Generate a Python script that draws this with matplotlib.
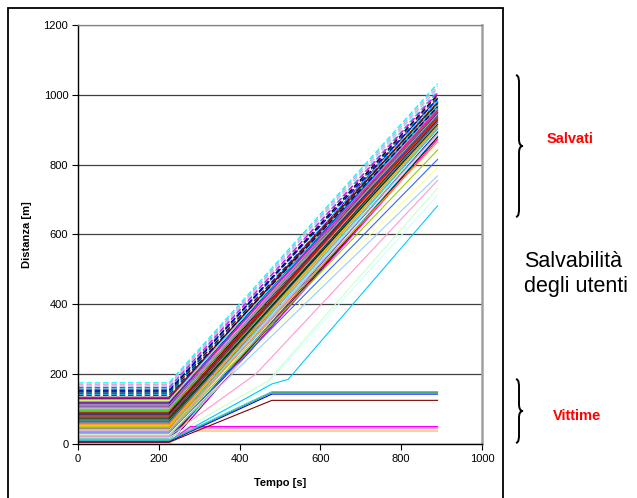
import numpy as np
import matplotlib.pyplot as plt
from matplotlib.path import Path
from matplotlib.patches import PathPatch, Rectangle

plt.rcParams['font.family'] = ['Liberation Sans', 'DejaVu Sans']

W, H = 637, 498

# tempi principali [s]
t_inizio = 225
t_fine = 890

# utenti salvati, fascio principale: distanza iniziale e finale [m]
salvati_d0 = [0, 3, 5, 8, 10, 13, 16, 19, 21, 24, 27, 30, 33, 35, 38, 41, 44, 47, 50, 52,
              55, 58, 61, 64, 66, 69, 72, 75, 78, 81, 84, 86, 89, 92, 95, 98, 101, 104,
              106, 109, 112, 115, 118, 121, 124, 127, 130, 134]
salvati_d1 = [880, 872, 890, 884, 895, 878, 900, 893, 905, 886, 912, 898, 907, 920, 889, 915,
              925, 903, 930, 918, 910, 935, 922, 940, 928, 945, 915, 950, 937, 955, 942, 948,
              960, 932, 965, 952, 970, 958, 944, 975, 962, 968, 980, 955, 985, 972, 990, 978]

# utenti salvati più lontani (linee tratteggiate)
tratteggio_d0 = [140, 143, 146, 149, 152, 155, 158, 162, 166, 170, 175]
tratteggio_d1 = [965, 982, 975, 995, 1000, 988, 1010, 1005, 1018, 1025, 1032]

# utenti salvati lenti: punti (tempo, distanza)
lenti_t = [[0, 225, 890], [0, 225, 890], [0, 225, 890], [0, 225, 890], [0, 225, 890],
           [0, 225, 440, 890], [0, 225, 470, 890], [0, 225, 450, 890], [0, 225, 480, 520, 890]]
lenti_d = [[46, 46, 865], [36, 36, 842], [31, 31, 815], [28, 28, 792], [25, 25, 768],
           [22, 22, 200, 755], [18, 18, 180, 733], [14, 14, 150, 712], [9, 9, 172, 185, 682]]
lenti_col = ['#FF9900', '#99CC00', '#3366FF', '#FFFF99', '#99CCFF',
             '#FF99CC', '#CCFFCC', '#CCFFFF', '#00CCFF']

# vittime: distanza iniziale, tempo e distanza di arresto
vittime_d0 = [1, 2, 3, 4, 5, 6, 5, 7, 9, 11]
vittime_t_arresto = [278, 278, 278, 278, 278, 278, 480, 480, 480, 480]
vittime_d_arresto = [37, 39, 41, 44, 47, 50, 125, 143, 147, 150]
vittime_col = ['#CCCC66', '#FFCC99', '#FFFF99', '#FF99CC', '#CC99FF', '#FF00FF',
               '#800000', '#0000FF', '#339966', '#33CCCC']

excel_col = ['#000080', '#FF00FF', '#FFFF00', '#00FFFF', '#800080', '#800000', '#008080',
             '#0000FF', '#00CCFF', '#CCFFFF', '#CCFFCC', '#FFFF99', '#99CCFF', '#FF99CC',
             '#CC99FF', '#FFCC99', '#3366FF', '#33CCCC', '#99CC00', '#FFCC00', '#FF9900',
             '#FF6600', '#666699', '#969696', '#003366', '#339966', '#003300', '#333300',
             '#993300', '#993366', '#333399', '#333333', '#000000', '#FF0000', '#00FF00',
             '#808000', '#C0C0C0', '#808080', '#9999FF', '#660066', '#FF8080', '#0066CC']

fig = plt.figure(figsize=(W / 100, H / 100), dpi=100)
ax = fig.add_axes([78 / W, 1 - 444 / H, 404 / W, 419 / H])

lw = 0.8
for i, (d0, d1) in enumerate(zip(salvati_d0, salvati_d1)):
    ax.plot([0, t_inizio, t_fine], [d0, d0, d1], color=excel_col[i % len(excel_col)], lw=lw)
for i, (tt, dd) in enumerate(zip(lenti_t, lenti_d)):
    ax.plot(tt, dd, color=lenti_col[i], lw=lw)
for i in range(len(vittime_d0)):
    d0 = vittime_d0[i]
    ax.plot([0, t_inizio, vittime_t_arresto[i], t_fine],
            [d0, d0, vittime_d_arresto[i], vittime_d_arresto[i]], color=vittime_col[i], lw=lw)
tratt_col = ['#000080', '#00CCFF', '#800000', '#008080', '#000000', '#0000FF', '#33CCCC',
             '#FF00FF', '#99CCFF', '#FF99CC', '#00FFFF']
for i, (d0, d1) in enumerate(zip(tratteggio_d0, tratteggio_d1)):
    ax.plot([0, t_inizio, t_fine], [d0, d0, d1], color=tratt_col[i], lw=1.0, ls=(0, (4, 2)))

ax.set_xlim(0, 1000)
ax.set_ylim(0, 1200)
ax.set_xticks([0, 200, 400, 600, 800, 1000])
ax.set_yticks([0, 200, 400, 600, 800, 1000, 1200])
ax.grid(axis='y', color='#404040', lw=0.9)
ax.set_axisbelow(True)
for s in ['left', 'bottom']:
    ax.spines[s].set_color('black')
    ax.spines[s].set_linewidth(1.0)
ax.spines['right'].set_color('#A0A0A0')
ax.spines['right'].set_linewidth(1.8)
ax.spines['top'].set_color('#808080')
ax.spines['top'].set_linewidth(0.9)
ax.tick_params(direction='out', length=4, width=0.8, labelsize=8, pad=3)
ax.set_xlabel('Tempo [s]', fontsize=8, fontweight='bold', labelpad=10)
ax.set_ylabel('Distanza [m]', fontsize=8, fontweight='bold', labelpad=8)

# cornice esterna
fig.add_artist(Rectangle((8 / W, -0.05), 495 / W, 1.05 - 8 / H, transform=fig.transFigure,
                         fill=False, edgecolor='black', lw=1.3))


def graffa(x, y1, y2):
    ym = (y1 + y2) / 2
    pts = [(x, y1), (x + 3, y1 + 1), (x + 3, y1 + 4), (x + 3, y1 + 10),
           (x + 3, ym - 7),
           (x + 3, ym - 3), (x + 4, ym), (x + 7, ym),
           (x + 4, ym), (x + 3, ym + 3), (x + 3, ym + 7),
           (x + 3, y2 - 10),
           (x + 3, y2 - 4), (x + 3, y2 - 1), (x, y2)]
    codes = [Path.MOVETO, Path.CURVE4, Path.CURVE4, Path.CURVE4, Path.LINETO,
             Path.CURVE4, Path.CURVE4, Path.CURVE4, Path.CURVE4, Path.CURVE4, Path.CURVE4,
             Path.LINETO, Path.CURVE4, Path.CURVE4, Path.CURVE4]
    verts = [(px / W, 1 - py / H) for px, py in pts]
    fig.add_artist(PathPatch(Path(verts, codes), transform=fig.transFigure,
                             fill=False, edgecolor='black', lw=1.4))


graffa(516, 75, 217)
graffa(516, 379, 443)

fig.text(570 / W, 1 - 139 / H, 'Salvati', color='red', fontsize=10.5, fontweight='bold',
         ha='center', va='center')
fig.text(577 / W, 1 - 416 / H, 'Vittime', color='red', fontsize=10.5, fontweight='bold',
         ha='center', va='center')
fig.text(524 / W, 1 - 267 / H, 'Salvabilità', fontsize=15.5, ha='left', va='baseline')
fig.text(524 / W, 1 - 292 / H, 'degli utenti', fontsize=15.5, ha='left', va='baseline')

fig.savefig('out.png', dpi=100)
